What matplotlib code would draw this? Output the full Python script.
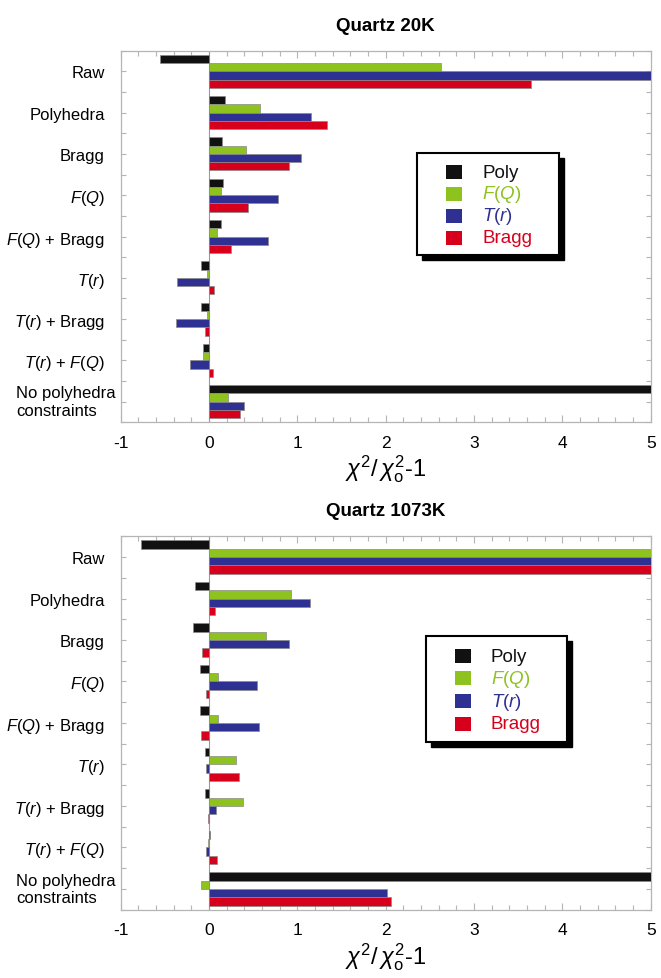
import numpy as np
import matplotlib
matplotlib.use("Agg")
import matplotlib.pyplot as plt
import matplotlib.transforms as mtransforms
from matplotlib.patches import Rectangle
from matplotlib.ticker import MultipleLocator

plt.rcParams['font.family'] = ['Liberation Sans', 'DejaVu Sans']
plt.rcParams['mathtext.fontset'] = 'custom'
plt.rcParams['mathtext.rm'] = 'Liberation Sans'
plt.rcParams['mathtext.it'] = 'Liberation Sans:italic'
plt.rcParams['mathtext.bf'] = 'Liberation Sans:bold'
plt.rcParams['axes.unicode_minus'] = False

# refinement categories, top to bottom
categories = ["Raw", "Polyhedra", "Bragg", "$F(Q)$", "$F(Q)$ + Bragg",
              "$T(r)$", "$T(r)$ + Bragg", "$T(r)$ + $F(Q)$",
              "No polyhedra\nconstraints"]
series = ["Poly", "$F(Q)$", "$T(r)$", "Bragg"]
colors = ["#111111", "#8dc21f", "#2e3192", "#d6001c"]

# chi^2 / chi0^2 - 1 per series, 20 K
q20_poly = [-0.56, 0.18, 0.15, 0.16, 0.13, -0.09, -0.09, -0.07, 5.0]
q20_fq = [2.63, 0.58, 0.42, 0.13, 0.09, -0.02, -0.02, -0.07, 0.22]
q20_tr = [5.0, 1.16, 1.04, 0.78, 0.67, -0.36, -0.37, -0.22, 0.40]
q20_bragg = [3.65, 1.34, 0.90, 0.44, 0.25, 0.06, -0.04, 0.05, 0.35]

# same for 1073 K
q1073_poly = [-0.77, -0.16, -0.18, -0.10, -0.10, -0.04, -0.05, 0.01, 5.0]
q1073_fq = [5.0, 0.93, 0.65, 0.10, 0.10, 0.30, 0.39, -0.01, -0.09]
q1073_tr = [5.0, 1.14, 0.90, 0.54, 0.57, -0.03, 0.08, -0.03, 2.01]
q1073_bragg = [5.0, 0.07, -0.08, -0.03, -0.09, 0.34, -0.01, 0.09, 2.06]

frame_col = "#b5b5b5"


def draw_key(ax, x0, y0, w, h):
    # boxed key with a solid drop shadow, in axes fraction
    bb = ax.get_window_extent()
    dx, dy = 5.0 / bb.width, 5.0 / bb.height
    ax.add_patch(Rectangle((x0 + dx, y0 - h - dy), w, h, transform=ax.transAxes,
                           facecolor='black', edgecolor='black', zorder=5))
    ax.add_patch(Rectangle((x0, y0 - h), w, h, transform=ax.transAxes,
                           facecolor='white', edgecolor='black', lw=1.5,
                           zorder=6))
    sw, sh = 16.0 / bb.width, 14.0 / bb.height
    rows = [0.19, 0.40, 0.615, 0.83]
    for lab, col, r in zip(series, colors, rows):
        yc = y0 - r * h
        ax.add_patch(Rectangle((x0 + 0.205 * w, yc - sh / 2), sw, sh,
                               transform=ax.transAxes, facecolor=col,
                               edgecolor='none', zorder=7))
        ax.text(x0 + 0.46 * w, yc, lab, transform=ax.transAxes, color=col,
                fontsize=13.5, va='center', ha='left', zorder=7)


def draw_panel(ax, title, data, key_box):
    y = np.arange(len(categories))
    h = 0.2
    offsets = [-0.3, -0.1, 0.1, 0.3]
    for vals, col, off in zip(data, colors, offsets):
        ax.barh(y + off, vals, height=h, color=col, edgecolor="#8a8a8a",
                linewidth=0.5, zorder=3)
    ax.axvline(0, color="#9a9a9a", lw=0.8, zorder=2)

    ax.set_xlim(-1, 5)
    ax.set_ylim(len(categories) - 0.5, -0.5)
    ax.set_yticks(y)
    # last category is a two-line block set closer to the axis
    ax.set_yticklabels(categories[:-1] + [""], fontsize=12)
    blend = mtransforms.blended_transform_factory(ax.transAxes, ax.transData)
    ax.text(-0.009, y[-1], categories[-1], transform=blend, fontsize=12,
            ha='right', va='center', multialignment='left')
    ax.yaxis.set_minor_locator(MultipleLocator(1, offset=0.5))
    ax.xaxis.set_major_locator(MultipleLocator(1))
    ax.xaxis.set_minor_locator(MultipleLocator(0.2))
    ax.tick_params(axis='both', which='both', direction='in', color=frame_col,
                   top=True, right=True, width=0.8)
    ax.tick_params(axis='x', which='major', length=5, pad=9, labelsize=12.5)
    ax.tick_params(axis='x', which='minor', length=3.5)
    ax.tick_params(axis='y', which='both', length=3.5, pad=11.5)
    for s in ax.spines.values():
        s.set_color(frame_col)
        s.set_linewidth(0.9)

    ax.set_title(title, fontsize=13.5, fontweight='bold', pad=15)
    ax.set_xlabel(r"$\chi^2/\,\chi_{\rm o}^2$-1", fontsize=17, labelpad=2)
    draw_key(ax, *key_box)


fig = plt.figure(figsize=(6.61, 9.79), dpi=100)
ax1 = fig.add_axes([0.1826, 0.5676, 0.8018, 0.3796])
ax2 = fig.add_axes([0.1826, 0.0698, 0.8018, 0.3814])

draw_panel(ax1, "Quartz 20K", [q20_poly, q20_fq, q20_tr, q20_bragg],
           (0.559, 0.725, 0.268, 0.275))
draw_panel(ax2, "Quartz 1073K", [q1073_poly, q1073_fq, q1073_tr, q1073_bragg],
           (0.576, 0.733, 0.266, 0.284))

fig.savefig("out.png", dpi=100)
